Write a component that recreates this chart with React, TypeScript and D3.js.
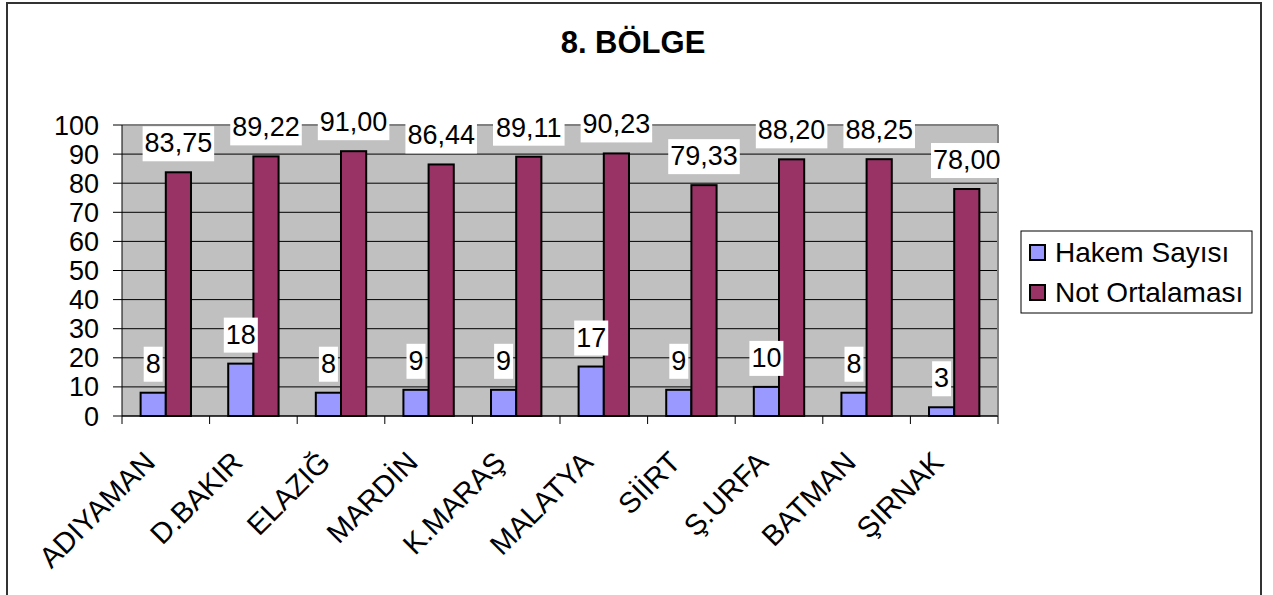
import React from "react";
import * as d3 from "d3";

const categories = ["ADIYAMAN", "D.BAKIR", "ELAZIĞ", "MARDİN", "K.MARAŞ", "MALATYA", "SİİRT", "Ş.URFA", "BATMAN", "ŞIRNAK"];
const hakemSayisi = [8, 18, 8, 9, 9, 17, 9, 10, 8, 3];
const notOrtalamasi = [83.75, 89.22, 91.0, 86.44, 89.11, 90.23, 79.33, 88.2, 88.25, 78.0];
const yTicks = [0, 10, 20, 30, 40, 50, 60, 70, 80, 90, 100];
const seriesNames = ["Hakem Sayısı", "Not Ortalaması"];
const seriesColors = ["#9999FF", "#993366"];
const title = "8. BÖLGE";

const W = 1273;
const H = 595;
const FONT = "'Liberation Sans', Arial, Helvetica, sans-serif";

const plot = { left: 122, right: 998, top: 125, bottom: 416 };

function textWidth(s: string, size: number) {
  const w: Record<string, number> = { ",": 0.278 };
  let t = 0;
  for (const c of s) t += w[c] ?? 0.556;
  return t * size;
}

export default function App() {
  const x = d3.scaleBand<string>().domain(categories).range([plot.left, plot.right]).paddingInner(0).paddingOuter(0);
  const y = d3.scaleLinear().domain([0, 100]).range([plot.bottom, plot.top]);
  const bw = x.bandwidth();
  const barW = bw * 0.2875;
  const sub = d3.scaleBand<number>().domain([0, 1]).range([0, barW * 2]);

  const labelSize = 27;
  const fmtNot = (v: number) => v.toFixed(2).replace(".", ",");

  const bars: React.ReactNode[] = [];
  const labels: React.ReactNode[] = [];
  categories.forEach((c, i) => {
    const cx = (x(c) as number) + bw / 2;
    const gx = cx - barW;
    const vals = [hakemSayisi[i], notOrtalamasi[i]];
    vals.forEach((v, s) => {
      const bx = gx + (sub(s) as number);
      bars.push(
        <rect key={`b${i}-${s}`} x={bx} y={y(v)} width={sub.bandwidth()} height={y(0) - y(v)} fill={seriesColors[s]} stroke="#000" strokeWidth={2} />
      );
      const txt = s === 0 ? String(v) : fmtNot(v);
      const tw = textWidth(txt, labelSize);
      const lcx = bx + sub.bandwidth() / 2;
      const baseline = y(v) - 20;
      labels.push(
        <g key={`l${i}-${s}`}>
          <rect x={lcx - tw / 2 - 2} y={baseline - 26} width={tw + 4} height={35} fill="#fff" />
          <text x={lcx} y={baseline} textAnchor="middle" fontSize={labelSize} fontFamily={FONT} fill="#000">{txt}</text>
        </g>
      );
    });
  });

  return (
    <svg width={W} height={H} style={{ position: "absolute", left: 0, top: 0, background: "#fff" }}>
      <rect x={7} y={3} width={1254} height={H + 10} fill="#fff" stroke="#333" strokeWidth={2} />
      <text x={633} y={53} textAnchor="middle" fontSize={31} fontWeight="bold" fontFamily={FONT}>{title}</text>

      <rect x={plot.left} y={plot.top} width={plot.right - plot.left} height={plot.bottom - plot.top} fill="#C0C0C0" />
      {yTicks.map((t) => (
        <line key={`g${t}`} x1={plot.left} x2={plot.right} y1={y(t)} y2={y(t)} stroke="#000" strokeWidth={1} />
      ))}
      <line x1={plot.left} x2={plot.right} y1={plot.top} y2={plot.top} stroke="#808080" strokeWidth={2} />
      <line x1={plot.right} x2={plot.right} y1={plot.top} y2={plot.bottom} stroke="#808080" strokeWidth={2} />

      {bars}

      <line x1={plot.left} x2={plot.left} y1={plot.top} y2={plot.bottom} stroke="#000" strokeWidth={1} />
      <line x1={plot.left} x2={plot.right} y1={plot.bottom} y2={plot.bottom} stroke="#000" strokeWidth={1} />
      {yTicks.map((t) => (
        <g key={`yt${t}`}>
          <line x1={plot.left - 9} x2={plot.left} y1={y(t)} y2={y(t)} stroke="#000" />
          <text x={99} y={y(t) + 9.5} textAnchor="end" fontSize={27} fontFamily={FONT}>{t}</text>
        </g>
      ))}
      {categories.concat([""]).map((c, i) => {
        const tx = plot.left + i * bw;
        return <line key={`xt${i}`} x1={tx} x2={tx} y1={plot.bottom} y2={plot.bottom + 8} stroke="#000" />;
      })}
      {categories.map((c) => {
        const cx = (x(c) as number) + bw / 2;
        return (
          <text key={`xl${c}`} transform={`translate(${cx - 9},${plot.bottom + 48}) rotate(-45)`} textAnchor="end" fontSize={29} fontFamily={FONT}>{c}</text>
        );
      })}

      {labels}

      <rect x={1021} y={231} width={231} height={82} fill="#fff" stroke="#000" strokeWidth={1} />
      {seriesNames.map((n, i) => (
        <g key={`lg${i}`}>
          <rect x={1030} y={245 + i * 40} width={15} height={15} fill={seriesColors[i]} stroke="#000" strokeWidth={2} />
          <text x={1055} y={262 + i * 40} fontSize={28} fontFamily={FONT}>{n}</text>
        </g>
      ))}
    </svg>
  );
}
